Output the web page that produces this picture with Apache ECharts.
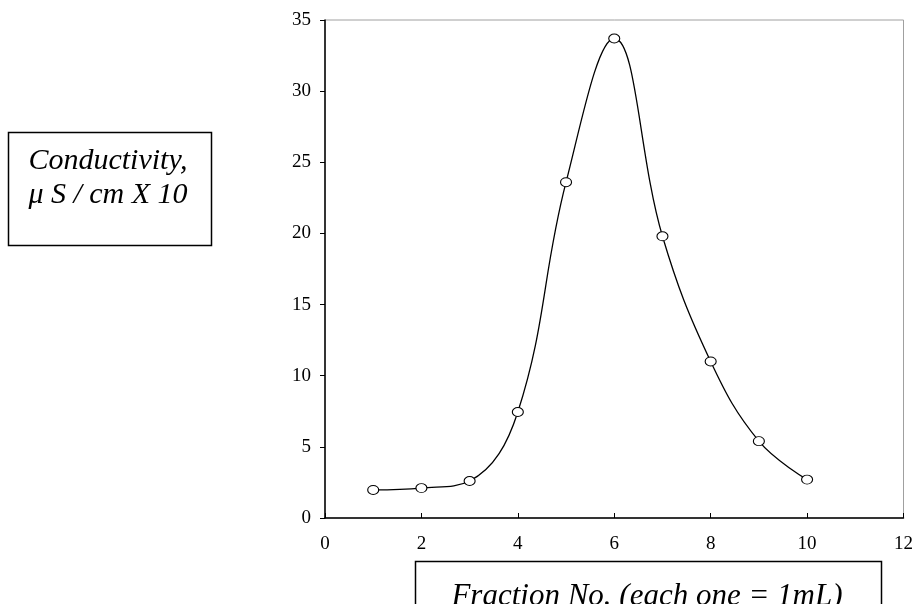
<!DOCTYPE html>
<html>
<head>
<meta charset="utf-8">
<script src="https://cdn.jsdelivr.net/npm/echarts@6/dist/echarts.min.js"></script>
<style>
  html, body { margin: 0; padding: 0; background: #fff; }
  #chart { width: 916px; height: 604px; }
</style>
</head>
<body>
<div id="chart"></div>
<script>
// fraction numbers and measured conductivity
const fractions = [1, 2, 3, 4, 5, 6, 7, 8, 9, 10]
const conductivity = [1.97, 2.1, 2.6, 7.45, 23.6, 33.7, 19.8, 11.0, 5.4, 2.7]

const yLabelTitle = ['Conductivity,', 'μ S / cm X 10']
const xLabelTitle = 'Fraction No. (each one = 1mL)'

const serif = '"Liberation Serif", "Times New Roman", serif'

const chart = echarts.init(document.getElementById('chart'))

const option = {
  animation: false,
  backgroundColor: '#fff',
  grid: {
    left: 325,
    top: 20,
    right: 11,
    bottom: 86,
    show: true,
    borderColor: '#a0a0a0',
    borderWidth: 1
  },
  xAxis: {
    type: 'value',
    min: 0,
    max: 12,
    interval: 2,
    axisLine: { onZero: false, lineStyle: { color: '#000', width: 1.5 } },
    axisTick: { inside: true, length: 5, lineStyle: { color: '#000' } },
    axisLabel: { color: '#000', fontFamily: serif, fontSize: 19, margin: 17 },
    splitLine: { show: false }
  },
  yAxis: {
    type: 'value',
    min: 0,
    max: 35,
    interval: 5,
    axisLine: { show: true, lineStyle: { color: '#000', width: 1.5 } },
    axisTick: { show: true, length: 5, lineStyle: { color: '#000' } },
    axisLabel: { color: '#000', fontFamily: serif, fontSize: 19, margin: 14 },
    splitLine: { show: false }
  },
  series: [{
    type: 'line',
    data: fractions.map((f, i) => [f, conductivity[i]]),
    smooth: 0.4,
    symbol: 'circle',
    symbolSize: [11, 9],
    lineStyle: { color: '#000', width: 1.3 },
    itemStyle: { color: '#fff', borderColor: '#000', borderWidth: 1 }
  }],
  graphic: [
    {
      type: 'rect',
      shape: { x: 8.5, y: 132.5, width: 203, height: 113 },
      style: { fill: '#fff', stroke: '#000', lineWidth: 1.5 }
    },
    {
      type: 'text',
      x: 108, y: 161,
      style: {
        text: yLabelTitle[0], font: 'italic 30px ' + serif,
        fill: '#000', align: 'center', verticalAlign: 'middle'
      }
    },
    {
      type: 'text',
      x: 108, y: 195,
      style: {
        text: yLabelTitle[1], font: 'italic 30px ' + serif,
        fill: '#000', align: 'center', verticalAlign: 'middle'
      }
    },
    {
      type: 'rect',
      shape: { x: 415.5, y: 561.5, width: 466, height: 60 },
      style: { fill: '#fff', stroke: '#000', lineWidth: 1.5 }
    },
    {
      type: 'text',
      x: 647, y: 597,
      style: {
        text: xLabelTitle, font: 'italic 31px ' + serif,
        fill: '#000', align: 'center', verticalAlign: 'middle'
      }
    }
  ]
}

chart.setOption(option)
</script>
</body>
</html>
